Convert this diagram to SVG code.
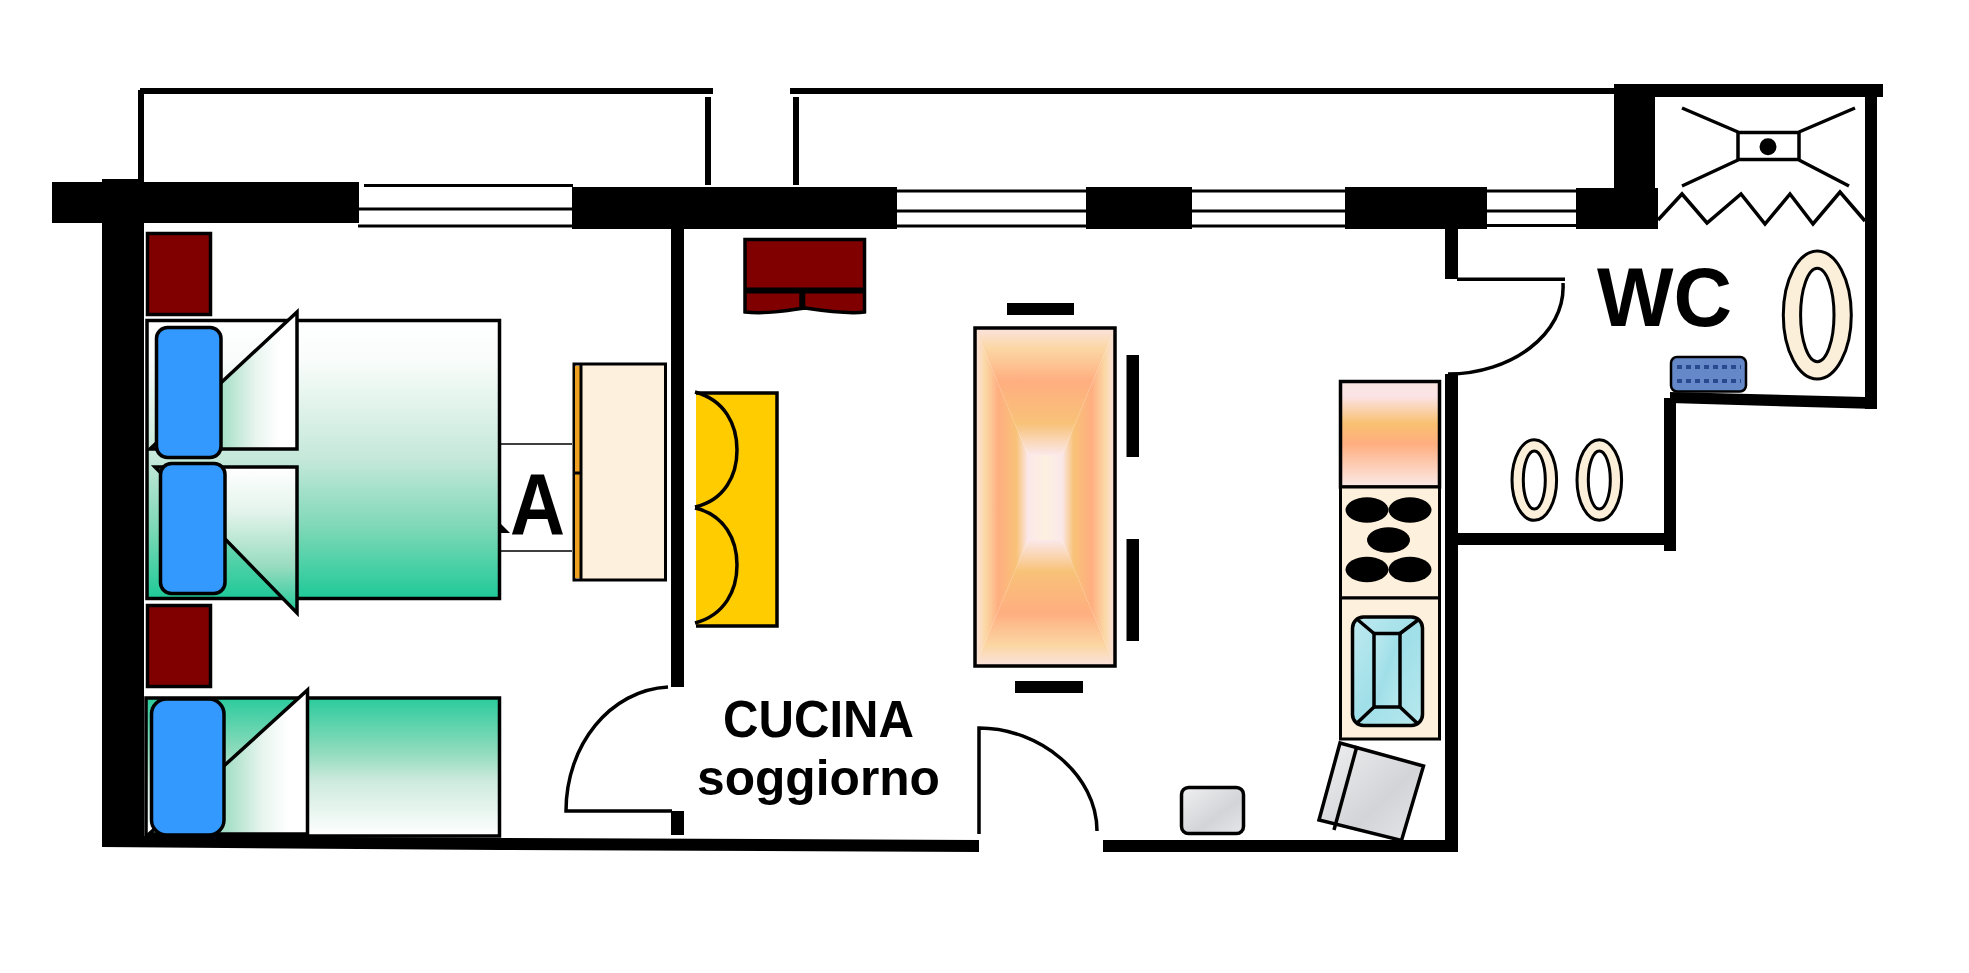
<svg xmlns="http://www.w3.org/2000/svg" width="1969" height="973" viewBox="0 0 1969 973">
<style>
.w{fill:#000}
.red{fill:#800000;stroke:#000;stroke-width:3.5}
.pil{fill:#3399ff;stroke:#000;stroke-width:3.5}
.ln{fill:none;stroke:#000;stroke-width:3.5}
.ov{fill:#fbefd9;stroke:#000;stroke-width:3}
.in{fill:#fff;stroke:#000;stroke-width:3}
.cream{fill:#fdf1dd;stroke:#000;stroke-width:3}
.t{font-family:"Liberation Sans",Arial,sans-serif;font-weight:bold;fill:#000}
</style>
<defs>
<linearGradient id="bedA" x1="0" y1="0" x2="0" y2="1"><stop offset="0" stop-color="#fff"/><stop offset=".15" stop-color="#f8fcfa"/><stop offset=".5" stop-color="#c4e8d9"/><stop offset=".75" stop-color="#7cd8b6"/><stop offset="1" stop-color="#1fc998"/></linearGradient>
<linearGradient id="bedB" x1="0" y1="0" x2="0" y2="1"><stop offset="0" stop-color="#2bcb9c"/><stop offset=".4" stop-color="#92dcbe"/><stop offset=".6" stop-color="#cdeadd"/><stop offset="1" stop-color="#fff"/></linearGradient>
<linearGradient id="foldH" x1="0" y1="0" x2="1" y2="0"><stop offset="0" stop-color="#7cd8b6"/><stop offset=".5" stop-color="#a8e0c8"/><stop offset=".72" stop-color="#e8f5ef"/><stop offset=".88" stop-color="#fff"/><stop offset="1" stop-color="#fff"/></linearGradient>
<linearGradient id="foldV" x1="0" y1="0" x2="0" y2="1"><stop offset="0" stop-color="#fff"/><stop offset=".3" stop-color="#e4f4ec"/><stop offset=".68" stop-color="#98dcc0"/><stop offset="1" stop-color="#1fc998"/></linearGradient>
<linearGradient id="tT" x1="0" y1="0" x2="0" y2="1"><stop offset="0" stop-color="#fbe3df"/><stop offset=".16" stop-color="#fbd7a4"/><stop offset=".42" stop-color="#ffae80"/><stop offset=".75" stop-color="#f8c278"/><stop offset="1" stop-color="#fbe8ea"/></linearGradient>
<linearGradient id="tB" x1="0" y1="1" x2="0" y2="0"><stop offset="0" stop-color="#fbe3df"/><stop offset=".16" stop-color="#fbd7a4"/><stop offset=".42" stop-color="#ffae80"/><stop offset=".75" stop-color="#f8c278"/><stop offset="1" stop-color="#fbe8ea"/></linearGradient>
<linearGradient id="tL" x1="0" y1="0" x2="1" y2="0"><stop offset="0" stop-color="#fbe3df"/><stop offset=".2" stop-color="#fbd7a4"/><stop offset=".44" stop-color="#ffae80"/><stop offset=".78" stop-color="#f8c278"/><stop offset="1" stop-color="#fbe8ea"/></linearGradient>
<linearGradient id="tR" x1="1" y1="0" x2="0" y2="0"><stop offset="0" stop-color="#fbe3df"/><stop offset=".2" stop-color="#fbd7a4"/><stop offset=".44" stop-color="#ffae80"/><stop offset=".78" stop-color="#f8c278"/><stop offset="1" stop-color="#fbe8ea"/></linearGradient>
<linearGradient id="tC" x1="0" y1="0" x2="1" y2="0"><stop offset="0" stop-color="#fbe8ea"/><stop offset=".5" stop-color="#fdf0e0"/><stop offset="1" stop-color="#fbe8ea"/></linearGradient>
<linearGradient id="hob" x1="0" y1="0" x2="0" y2="1"><stop offset="0" stop-color="#fbe6e0"/><stop offset=".14" stop-color="#fbe3e6"/><stop offset=".4" stop-color="#f9c070"/><stop offset=".59" stop-color="#ffae80"/><stop offset=".97" stop-color="#fbe6e0"/></linearGradient>
<linearGradient id="grey" x1="0" y1="0" x2="1" y2="1"><stop offset="0" stop-color="#f0f0f2"/><stop offset=".6" stop-color="#d2d4d7"/><stop offset="1" stop-color="#e6e7ea"/></linearGradient>
<linearGradient id="aqua" x1="0" y1="0" x2="1" y2="1"><stop offset="0" stop-color="#bfeaf0"/><stop offset=".5" stop-color="#a0dfe8"/><stop offset="1" stop-color="#b8e8ee"/></linearGradient>
</defs>
<rect width="1969" height="973" fill="#fff"/>

<g id="terrace">
<rect class="w" x="140" y="88" width="573" height="6"/>
<rect class="w" x="138" y="90" width="6" height="92"/>
<rect class="w" x="705" y="97" width="6" height="88"/>
<rect class="w" x="793" y="97" width="6" height="88"/>
<rect class="w" x="790" y="88" width="830" height="6"/>
</g>

<g id="windows">
<rect class="w" x="364" y="184" width="209" height="3"/><rect class="w" x="359" y="207.500" width="214" height="3"/><rect class="w" x="358" y="224.500" width="215" height="3"/>
<rect class="w" x="896" y="189.500" width="190" height="3"/><rect class="w" x="896" y="209.500" width="190" height="3"/><rect class="w" x="896" y="224.500" width="190" height="3"/>
<rect class="w" x="1191" y="189.500" width="155" height="3"/><rect class="w" x="1191" y="209.500" width="155" height="3"/><rect class="w" x="1191" y="224.500" width="155" height="3"/>
<rect class="w" x="1487" y="189.500" width="90" height="3"/><rect class="w" x="1487" y="209.500" width="90" height="3"/><rect class="w" x="1487" y="224" width="90" height="3"/>
</g>

<g id="walls">
<rect class="w" x="52" y="182" width="307" height="41"/>
<polygon class="w" points="102,179 144,179 144,836 500,838 979,840 979,852 500,850 102,847"/>
<rect class="w" x="572" y="187" width="325" height="42"/>
<rect class="w" x="1086" y="187" width="106" height="42"/>
<rect class="w" x="1345" y="187" width="142" height="42"/>
<rect class="w" x="1576" y="188" width="82" height="41"/>
<rect class="w" x="1614" y="84" width="41" height="106"/>
<rect class="w" x="1614" y="84" width="269" height="13"/>
<rect class="w" x="1865" y="96" width="12" height="313"/>
<polygon class="w" points="1670,392 1865,397 1877,409 1670,403"/>
<rect class="w" x="1664" y="398" width="12" height="153"/>
<rect class="w" x="1457" y="533" width="208" height="12"/>
<rect class="w" x="1445" y="229" width="13" height="50"/>
<rect class="w" x="1445" y="374" width="13" height="478"/>
<rect class="w" x="1103" y="840" width="355" height="12"/>
<rect class="w" x="671" y="229" width="13" height="458"/>
<rect class="w" x="671" y="811" width="13" height="24"/>
</g>

<g id="doors">
<path class="ln" d="M668,687 C610,690 566,745 566,811 L672,811"/>
<path class="ln" d="M979,834 L979,728 C1040,728 1097,775 1097,831"/>
<path class="ln" d="M1457,279.300 L1565,279.300"/>
<path class="ln" d="M1563,283 C1566,335 1510,374 1448,374"/>
</g>

<g id="nightstands">
<rect class="red" x="147.500" y="233.500" width="63" height="81"/>
<rect class="red" x="147.500" y="605.500" width="63" height="81"/>
</g>

<g id="bed-double">
<rect x="147" y="320.500" width="352.500" height="278" fill="url(#bedA)" stroke="#000" stroke-width="3.500"/>
<polygon points="297,312 297,449 150,449" fill="url(#foldH)" stroke="#000" stroke-width="3.500"/>
<rect class="pil" x="156.500" y="327.500" width="64.500" height="130" rx="11"/>
<polygon points="155,467 297,467 297,613" fill="url(#foldV)" stroke="#000" stroke-width="3.500"/>
<rect class="pil" x="160.500" y="463.500" width="64.500" height="130" rx="11"/>
</g>

<g id="bed-single">
<rect x="146" y="698" width="353.500" height="138" fill="url(#bedB)" stroke="#000" stroke-width="3.500"/>
<polygon points="307.500,690 307.500,834 149,834" fill="url(#foldH)" stroke="#000" stroke-width="3.500"/>
<rect class="pil" x="151.500" y="699" width="72.500" height="136" rx="15"/>
</g>

<g id="wardrobe">
<path d="M500,444 H572 M500,551 H572" fill="none" stroke="#000" stroke-width="1.500"/>
<rect class="cream" x="574" y="364" width="91.500" height="216"/>
<rect x="575" y="366" width="5" height="212" fill="#f0a020"/>
<path d="M581,365 V579 M574,473 H581" fill="none" stroke="#000" stroke-width="3"/>
</g>

<g id="label-camera">
<polygon class="w" points="500,523 510,533 500,533"/>
<text class="t" x="510" y="534" font-size="88" textLength="55" lengthAdjust="spacingAndGlyphs">A</text>
</g>

<g id="sofa">
<path d="M696,393 H777 V626 H696 Z" fill="#ffcc00"/>
<path d="M696,393 H777 V626 H696" fill="none" stroke="#000" stroke-width="3.500"/>
<path d="M695,392 C725,400 737,425 737,450 C737,475 725,500 695,507" fill="none" stroke="#000" stroke-width="3.500"/>
<path d="M695,508 C725,515 737,540 737,565 C737,590 725,615 695,623" fill="none" stroke="#000" stroke-width="3.500"/>
</g>

<g id="sideboard">
<path d="M745,239.500 H864.500 V312 C850,314 825,311 805,308 C785,311 765,314 745,312 Z" class="red"/>
<path d="M745,290.500 H864.500 M802.300,292 V309" fill="none" stroke="#000" stroke-width="6"/>
</g>

<g id="table">
<polygon points="975,328 1115,328 1062,455 1028,455" fill="url(#tT)"/>
<polygon points="975,666 1115,666 1062,540 1028,540" fill="url(#tB)"/>
<polygon points="975,328 1028,455 1028,540 975,666" fill="url(#tL)"/>
<polygon points="1115,328 1062,455 1062,540 1115,666" fill="url(#tR)"/>
<rect x="1028" y="455" width="34" height="85" fill="url(#tC)"/>
<rect x="975" y="328" width="140" height="338" fill="none" stroke="#000" stroke-width="3.500"/>
</g>

<g id="chairs">
<rect class="w" x="1007" y="303" width="67" height="12"/>
<rect class="w" x="1126.500" y="355" width="12.500" height="102"/>
<rect class="w" x="1126.500" y="539" width="12.500" height="102"/>
<rect class="w" x="1015" y="681" width="68" height="12"/>
</g>

<g id="counter">
<rect x="1340.500" y="381.500" width="99" height="105.500" fill="url(#hob)" stroke="#000" stroke-width="3.500"/>
<rect class="cream" x="1340.500" y="487" width="99" height="111"/>
<rect class="cream" x="1340.500" y="598" width="99" height="141"/>
<ellipse class="w" cx="1367" cy="510" rx="21.500" ry="12.700"/>
<ellipse class="w" cx="1410" cy="510" rx="21.500" ry="12.700"/>
<ellipse class="w" cx="1388.500" cy="540" rx="21.500" ry="12.700"/>
<ellipse class="w" cx="1367" cy="569.500" rx="21.500" ry="12.700"/>
<ellipse class="w" cx="1410" cy="569.500" rx="21.500" ry="12.700"/>
<rect x="1352.500" y="617" width="70" height="108.500" rx="11" fill="url(#aqua)" stroke="#000" stroke-width="3.500"/>
<rect x="1374" y="633.500" width="26" height="73.500" fill="url(#aqua)" stroke="#000" stroke-width="3.500"/>
<path class="ln" d="M1374,633.500 L1358,620 M1400,633.500 L1418,620 M1374,707 L1356,724 M1400,707 L1418,724"/>
</g>

<g id="appliances">
<rect x="1181.500" y="787.500" width="62" height="46" rx="7" fill="url(#grey)" stroke="#000" stroke-width="3.500"/>
<polygon points="1340,743 1423.500,766 1401.500,840.500 1319,820" fill="url(#grey)" stroke="#000" stroke-width="3.500"/>
<path class="ln" d="M1357,746 L1334,830"/>
</g>

<g id="shower">
<rect x="1738" y="132.500" width="61" height="27" fill="#fff" stroke="#000" stroke-width="3.500"/>
<circle class="w" cx="1768" cy="146.700" r="8.500"/>
<path class="ln" d="M1682,108 L1738,132 M1799,132 L1855,108 M1738,160 L1682,186 M1799,160 L1849,186"/>
<path class="ln" d="M1658,220 L1682,194 L1707,223 L1741,194 L1765,224 L1790,194 L1813,224 L1840,192 L1865,221"/>
</g>

<g id="sanitary">
<ellipse class="ov" cx="1817.300" cy="315" rx="34" ry="64"/>
<ellipse class="in" cx="1817.300" cy="315" rx="16.700" ry="46.700"/>
<ellipse class="ov" cx="1534.300" cy="480" rx="22.300" ry="40.300"/>
<ellipse class="in" cx="1534.300" cy="480" rx="11" ry="29"/>
<ellipse class="ov" cx="1599.300" cy="480" rx="22.300" ry="40.300"/>
<ellipse class="in" cx="1599.300" cy="480" rx="11" ry="29"/>
</g>

<g id="mat">
<rect x="1671" y="357" width="75" height="34.500" rx="6" fill="#6488c8" stroke="#000" stroke-width="2.500"/>
<path d="M1677,367 H1741 M1677,381 H1741" fill="none" stroke="#2a4a90" stroke-width="4" stroke-dasharray="5 4"/>
</g>

<g id="labels">
<text class="t" x="723" y="737" font-size="51" textLength="191" lengthAdjust="spacingAndGlyphs">CUCINA</text>
<text class="t" x="697" y="795" font-size="50" textLength="243" lengthAdjust="spacingAndGlyphs">soggiorno</text>
<text class="t" x="1597" y="326" font-size="84" textLength="135" lengthAdjust="spacingAndGlyphs">WC</text>
</g>
</svg>
